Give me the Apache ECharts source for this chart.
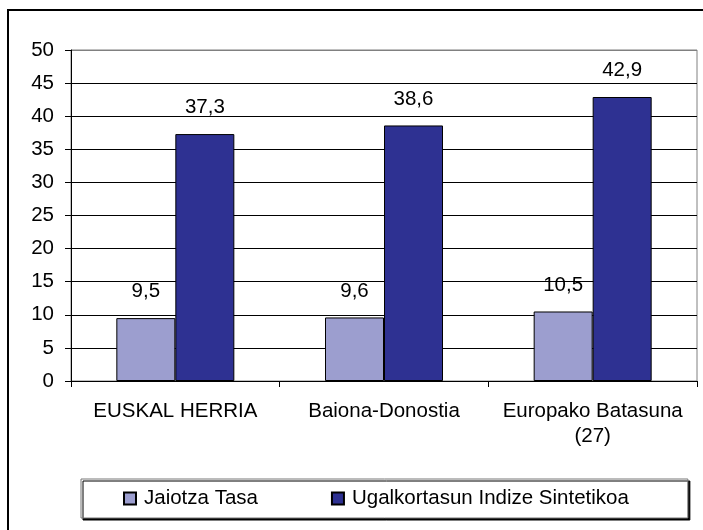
<!DOCTYPE html>
<html>
<head>
<meta charset="utf-8">
<script src="https://cdn.jsdelivr.net/npm/echarts@6/dist/echarts.min.js"></script>
<style>
  html, body { margin: 0; padding: 0; background: #fff; }
  #chart { width: 703px; height: 530px; }
</style>
</head>
<body>
<div id="chart"></div>
<script>
const categories = ['EUSKAL HERRIA', 'Baiona-Donostia', 'Europako Batasuna\n(27)'];
const jaiotzaTasa = [9.5, 9.6, 10.5];
const ugalkortasun = [37.3, 38.6, 42.9];
const seriesNames = ['Jaiotza Tasa', 'Ugalkortasun Indize Sintetikoa'];

const FONT = "'Liberation Sans', Arial, sans-serif";
const COLORS = { light: '#9c9ecf', dark: '#2e3192', line: '#000', frame: '#808080' };

// 11 split lines (0..50); the top one sits on the grey plot border
const splitColors = Array.from({ length: 11 }, (_, i) => (i === 10 ? COLORS.frame : COLORS.line));

const labelFmt = (p) => String(p.value).replace('.', ',');

const barLabel = {
  show: true, position: 'top', distance: 16,
  color: '#000', fontSize: 20.5, fontFamily: FONT,
  formatter: labelFmt,
};

const chart = echarts.init(document.getElementById('chart'), null, { renderer: 'canvas' });

chart.setOption({
  backgroundColor: '#fff',
  animation: false,
  textStyle: { fontFamily: FONT },
  graphic: [{
    type: 'rect', silent: true, z: 100,
    shape: { x: 8, y: 10, width: 720, height: 560 },
    style: { fill: 'none', stroke: '#000', lineWidth: 2 },
  }],
  grid: {
    left: 71, right: 6, top: 50, bottom: 149,
    show: true, borderColor: COLORS.frame, borderWidth: 1,
  },
  legend: {
    data: seriesNames,
    left: 81, top: 479,
    padding: [9, 59, 9, 42],
    itemGap: 73,
    itemWidth: 12, itemHeight: 12,
    icon: 'rect',
    backgroundColor: '#fff',
    borderColor: '#777', borderWidth: 1,
    shadowColor: '#000', shadowOffsetX: 2, shadowOffsetY: 2, shadowBlur: 0,
    textStyle: { color: '#000', fontSize: 20.5, fontFamily: FONT, padding: [0, 0, 0, 3] },
  },
  xAxis: {
    type: 'category',
    data: categories,
    axisLine: { lineStyle: { color: COLORS.line, width: 1 } },
    axisTick: { show: true, length: 6, lineStyle: { color: COLORS.line } },
    axisLabel: { color: '#000', fontSize: 20.5, fontFamily: FONT, margin: 18, lineHeight: 25, interval: 0 },
  },
  yAxis: {
    type: 'value',
    min: 0, max: 50, interval: 5,
    axisLine: { show: true, lineStyle: { color: COLORS.line, width: 1 } },
    axisTick: { show: true, length: 6, lineStyle: { color: COLORS.line } },
    axisLabel: { color: '#000', fontSize: 20.5, fontFamily: FONT, margin: 17 },
    splitLine: { show: true, lineStyle: { color: splitColors, width: 1 } },
  },
  series: [
    {
      name: seriesNames[0], type: 'bar', data: jaiotzaTasa,
      barWidth: 59, barGap: '0%',
      itemStyle: { color: COLORS.light, borderColor: '#000', borderWidth: 1 },
      label: barLabel,
    },
    {
      name: seriesNames[1], type: 'bar', data: ugalkortasun,
      barWidth: 59,
      itemStyle: { color: COLORS.dark, borderColor: '#000', borderWidth: 1 },
      label: barLabel,
    },
  ],
});
</script>
</body>
</html>
